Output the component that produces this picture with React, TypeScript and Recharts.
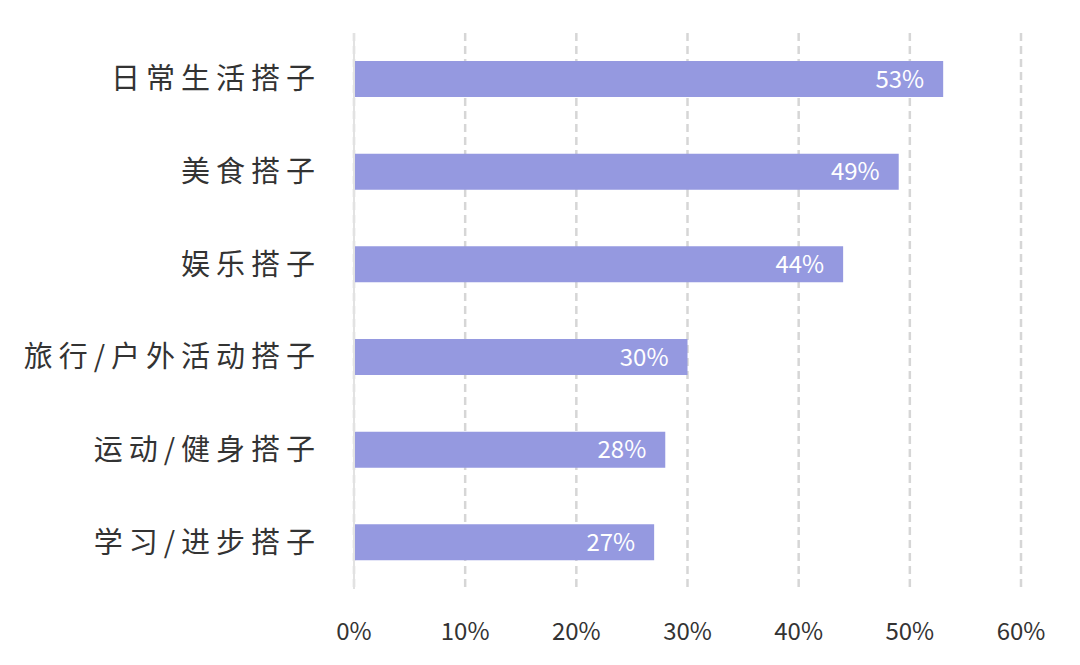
import { Bar, BarChart, CartesianGrid, LabelList, XAxis, YAxis } from "recharts";

const categories = [
  "日常生活搭子",
  "美食搭子",
  "娱乐搭子",
  "旅行/户外活动搭子",
  "运动/健身搭子",
  "学习/进步搭子",
];
const shares = [53, 49, 44, 30, 28, 27];
const xTicks = [0, 10, 20, 30, 40, 50, 60];

const data = categories.map((name, i) => ({ name, value: shares[i] }));

const FONT = '"Noto Sans CJK SC", "Noto Sans", sans-serif';

function CategoryTick({ x, y, payload }: any) {
  return (
    <text
      x={x - 25}
      y={y}
      dy={10}
      textAnchor="end"
      fontSize={29}
      letterSpacing={6}
      fill="#333"
      fontFamily={FONT}
    >
      {payload.value}
    </text>
  );
}

function PercentTick({ x, y, payload }: any) {
  return (
    <text
      x={x}
      y={y}
      dy={43}
      textAnchor="middle"
      fontSize={24}
      fill="#333"
      fontFamily={FONT}
    >
      {payload.value}%
    </text>
  );
}

export default function App() {
  return (
    <div style={{ position: "absolute", left: 0, top: 0, background: "#fff" }}>
      <BarChart
        width={1080}
        height={665}
        data={data}
        layout="vertical"
        margin={{ top: 33, right: 59, bottom: 0, left: 0 }}
        barCategoryGap={0}
      >
        <CartesianGrid
          horizontal={false}
          stroke="#d6d6d6"
          strokeWidth={2.5}
          strokeDasharray="8 5"
        />
        <XAxis
          type="number"
          domain={[0, 60]}
          ticks={xTicks}
          axisLine={false}
          tickLine={false}
          height={76}
          tick={<PercentTick />}
        />
        <YAxis
          type="category"
          dataKey="name"
          width={354}
          axisLine={{ stroke: "#e2e2e2", strokeWidth: 2 }}
          tickLine={false}
          tick={<CategoryTick />}
        />
        <Bar dataKey="value" fill="#9599e0" barSize={36} isAnimationActive={false}>
          <LabelList
            dataKey="value"
            position="insideRight"
            offset={19}
            fill="#fff"
            fontSize={24}
            fontFamily={FONT}
            formatter={(v: any) => `${v}%`}
          />
        </Bar>
      </BarChart>
    </div>
  );
}
